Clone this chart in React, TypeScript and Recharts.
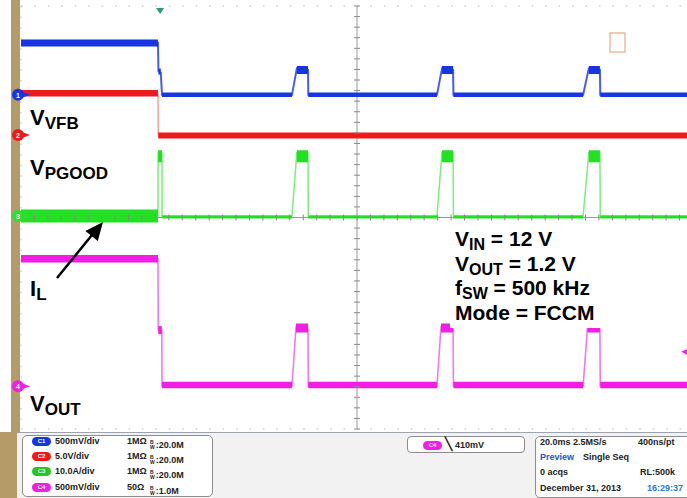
import React from "react";
import {
  ComposedChart,
  Line,
  Scatter,
  XAxis,
  YAxis,
  CartesianGrid,
  ReferenceLine,
} from "recharts";

type Pt = { t: number; v: number };
type Seg = [number, number, number]; // start ms, end ms, level (div)

// screen: 10 x 20 ms/div, 8 vertical divisions
const majorTime = [0, 20, 40, 60, 80, 100, 120, 140, 160, 180, 200];
const minorTime = Array.from({ length: 51 }, (_, i) => i * 4);
const majorDiv = [0, 1, 2, 3, 4, 5, 6, 7, 8];
const minorDiv = Array.from({ length: 41 }, (_, i) => +(i * 0.2).toFixed(1));

// channel ground positions (divisions from bottom)
const groundC1 = 6.32;
const groundC2 = 5.56;
const groundC3 = 4.03;
const groundC4 = 0.81;

const channelNames = ["1", "2", "3", "4"];
const channelGrounds = [groundC1, groundC2, groundC3, groundC4];

// C1 VFB (500 mV/div)
const vfbTrace: Pt[] = [
  { t: 0, v: 0.98 }, { t: 40.77, v: 0.98 }, { t: 40.9, v: 0.45 }, { t: 41.6, v: 0.42 },
  { t: 41.96, v: 0 }, { t: 80.65, v: 0 }, { t: 82.1, v: 0.5 }, { t: 85.42, v: 0.47 },
  { t: 85.5, v: 0 }, { t: 123.8, v: 0 }, { t: 125.3, v: 0.5 }, { t: 128.6, v: 0.47 },
  { t: 128.7, v: 0 }, { t: 167.3, v: 0 }, { t: 169.0, v: 0.5 }, { t: 172.3, v: 0.47 },
  { t: 172.4, v: 0 }, { t: 200, v: 0 },
];
const vfbHigh: Seg[] = [[0, 40.77, 0.98]];
const vfbGlitch: Seg[] = [[40.9, 41.6, 0.44]];
const vfbLow: Seg[] = [[41.96, 80.65, 0], [85.5, 123.8, 0], [128.7, 167.3, 0], [172.4, 200, 0]];
const vfbTop: Seg[] = [[82.1, 85.42, 0.47], [125.3, 128.6, 0.47], [169.0, 172.3, 0.47]];

// C2 PGOOD (5 V/div)
const pgTrace: Pt[] = [
  { t: 0, v: 0.79 }, { t: 40.77, v: 0.79 }, { t: 40.85, v: 0 }, { t: 200, v: 0 },
];
const pgHigh: Seg[] = [[0, 40.77, 0.79]];
const pgLow: Seg[] = [[40.85, 200, -0.01]];

// C3 IL (10 A/div)
const ilTrace: Pt[] = [
  { t: 0, v: 0 }, { t: 40.77, v: 0 }, { t: 40.8, v: 1.2 }, { t: 41.96, v: 1.2 },
  { t: 42.0, v: 0 }, { t: 80.65, v: 0 }, { t: 82.1, v: 1.2 }, { t: 85.42, v: 1.2 },
  { t: 85.5, v: 0 }, { t: 123.8, v: 0 }, { t: 125.3, v: 1.2 }, { t: 128.6, v: 1.2 },
  { t: 128.7, v: 0 }, { t: 167.3, v: 0 }, { t: 169.0, v: 1.2 }, { t: 172.3, v: 1.2 },
  { t: 172.4, v: 0 }, { t: 200, v: 0 },
];
const ilBand: Seg[] = [[0, 40.77, 0]];
const ilLow: Seg[] = [[42.0, 80.65, -0.02], [85.5, 123.8, -0.02], [128.7, 167.3, -0.02], [172.4, 200, -0.02]];
const ilTop: Seg[] = [[40.8, 41.96, 1.13], [82.1, 85.42, 1.13], [125.3, 128.6, 1.13], [169.0, 172.3, 1.13]];

// C4 VOUT (500 mV/div)
const voutTrace: Pt[] = [
  { t: 0, v: 2.41 }, { t: 40.77, v: 2.41 }, { t: 40.85, v: 1.06 }, { t: 41.9, v: 1.06 },
  { t: 41.96, v: 0 }, { t: 80.65, v: 0 }, { t: 81.85, v: 1.12 }, { t: 85.42, v: 1.08 },
  { t: 85.5, v: 0 }, { t: 123.8, v: 0 }, { t: 125.0, v: 1.12 }, { t: 128.6, v: 1.08 },
  { t: 128.7, v: 0 }, { t: 167.3, v: 0 }, { t: 168.6, v: 1.12 }, { t: 172.3, v: 1.08 },
  { t: 172.4, v: 0 }, { t: 200, v: 0 },
];
const voutHigh: Seg[] = [[0, 40.77, 2.41]];
const voutGlitch: Seg[] = [[40.85, 41.9, 1.06]];
const voutLow: Seg[] = [[41.96, 80.65, 0.02], [85.5, 123.8, 0.02], [128.7, 167.3, 0.02], [172.4, 200, 0.02]];
const voutTop: Seg[] = [[81.85, 85.42, 1.1], [125.0, 128.6, 1.1], [168.6, 172.3, 1.1]];

// trigger position (ms) and C4 trigger level marker (div)
const triggerTime = 41.4;
const triggerLevel = 1.46;

const BLUE = "#1636e6";
const RED = "#ee1a1a";
const GREEN = "#22e022";
const MAGENTA = "#f21ee6";
const CH_COLORS = [BLUE, RED, "#2ee02e", MAGENTA];
const FRAME = "#2460dc";

const shift = (pts: Pt[], off: number) => pts.map((p) => ({ t: p.t, y: p.v + off }));
const band = (segs: Seg[], off: number) =>
  segs.flatMap(([a, b, lv]) => [
    { t: a, y: lv + off },
    { t: b, y: lv + off },
    { t: b, y: null as number | null },
  ]);

const ax = { xAxisId: "x", yAxisId: "y" };

function trace(key: string, data: any[], color: string, width: number) {
  return (
    <Line
      key={key}
      {...ax}
      data={data}
      dataKey="y"
      type="linear"
      stroke={color}
      strokeWidth={width}
      dot={false}
      activeDot={false}
      connectNulls={false}
      isAnimationActive={false}
    />
  );
}

const Badge = ({ c, label }: { c: string; label: string }) => (
  <span
    style={{
      display: "inline-block",
      width: 19,
      height: 9,
      borderRadius: 5,
      background: c,
      color: "#fff",
      fontSize: 6,
      lineHeight: "9px",
      textAlign: "center",
      verticalAlign: "middle",
    }}
  >
    {label}
  </span>
);

const BW = ({ v }: { v: string }) => (
  <span style={{ display: "inline-flex", alignItems: "center" }}>
    <span
      style={{
        display: "inline-flex",
        flexDirection: "column",
        fontSize: 5,
        lineHeight: "5px",
        marginRight: 1,
      }}
    >
      <span>B</span>
      <span>W</span>
    </span>
    <span>:{v}</span>
  </span>
);

const cell = (x: number, y: number, content: React.ReactNode, color = "#222") => (
  <div style={{ position: "absolute", left: x, top: y, color, whiteSpace: "nowrap", lineHeight: "10px" }}>
    {content}
  </div>
);

export default function App() {
  const rows = [
    { c: BLUE, n: "C1", s: "500mV/div", r: "1MΩ", bw: "20.0M" },
    { c: RED, n: "C2", s: "5.0V/div", r: "1MΩ", bw: "20.0M" },
    { c: "#22c822", n: "C3", s: "10.0A/div", r: "1MΩ", bw: "20.0M" },
    { c: MAGENTA, n: "C4", s: "500mV/div", r: "50Ω", bw: "1.0M" },
  ];
  const rowY = [436, 451, 466, 482];

  return (
    <div
      style={{
        position: "absolute",
        left: 0,
        top: 0,
        width: 687,
        height: 498,
        overflow: "hidden",
        background: "#fff",
        fontFamily: '"Liberation Sans", Arial, sans-serif',
      }}
    >
      {/* left tan strip */}
      <div style={{ position: "absolute", left: 11, top: 0, width: 9, height: 433, background: "#b59b68" }} />

      <div style={{ position: "absolute", left: 0, top: 0 }}>
        <ComposedChart width={687} height={498} margin={{ top: 6, right: -6, bottom: 69, left: 21 }}>
          <CartesianGrid
            {...ax}
            horizontal={false}
            stroke="#b8b8b8"
            strokeDasharray="1.5 9.08"
          />
          <CartesianGrid
            {...ax}
            vertical={false}
            stroke="#b8b8b8"
            strokeDasharray="1.5 11.94"
          />
          <XAxis
            xAxisId="x"
            dataKey="t"
            type="number"
            domain={[0, 200]}
            ticks={majorTime}
            interval={0}
            orientation="bottom"
            mirror
            height={0}
            tick={false}
            tickSize={7}
            tickLine={{ stroke: "#777" }}
            axisLine={{ stroke: FRAME, strokeWidth: 4 }}
          />
          <XAxis
            xAxisId="xm"
            type="number"
            domain={[0, 200]}
            ticks={minorTime}
            interval={0}
            orientation="bottom"
            mirror
            height={0}
            tick={false}
            tickSize={4}
            tickLine={{ stroke: "#888" }}
            axisLine={false}
          />
          <XAxis
            xAxisId="xt"
            type="number"
            domain={[0, 200]}
            ticks={majorTime}
            interval={0}
            orientation="top"
            mirror
            height={0}
            tick={false}
            tickSize={8}
            tickLine={{ stroke: "#777" }}
            axisLine={{ stroke: FRAME, strokeWidth: 3 }}
          />
          <XAxis
            xAxisId="xtm"
            type="number"
            domain={[0, 200]}
            ticks={minorTime}
            interval={0}
            orientation="top"
            mirror
            height={0}
            tick={false}
            tickSize={4}
            tickLine={{ stroke: "#888" }}
            axisLine={false}
          />
          <YAxis
            yAxisId="y"
            dataKey="y"
            type="number"
            domain={[0, 8]}
            ticks={majorDiv}
            interval={0}
            orientation="left"
            mirror
            width={0}
            tick={false}
            tickSize={7}
            tickLine={{ stroke: FRAME }}
            axisLine={{ stroke: FRAME, strokeWidth: 2 }}
          />
          <YAxis
            yAxisId="ym"
            type="number"
            domain={[0, 8]}
            ticks={minorDiv}
            interval={0}
            orientation="left"
            mirror
            width={0}
            tick={false}
            tickSize={4}
            tickLine={{ stroke: FRAME }}
            axisLine={false}
          />

          <ReferenceLine {...ax} x={100} stroke="#9a9a9a" strokeWidth={1} />
          <ReferenceLine {...ax} y={4} stroke="#9a9a9a" strokeWidth={1} />
          <Scatter
            {...ax}
            data={minorDiv.map((d) => ({ t: 100, y: d }))}
            isAnimationActive={false}
            shape={(p: any) => (
              <line x1={p.cx - 3} x2={p.cx + 3} y1={p.cy} y2={p.cy} stroke="#8a8a8a" strokeWidth={1} />
            )}
          />
          <Scatter
            {...ax}
            data={minorTime.map((t) => ({ t, y: 4 }))}
            isAnimationActive={false}
            shape={(p: any) => (
              <line x1={p.cx} x2={p.cx} y1={p.cy - 3} y2={p.cy + 3} stroke="#8a8a8a" strokeWidth={1} />
            )}
          />

          {/* C1 VFB */}
          {trace("c1t", shift(vfbTrace, groundC1), "#4a5cf0", 2)}
          {trace("c1h", band(vfbHigh, groundC1), BLUE, 7)}
          {trace("c1g", band(vfbGlitch, groundC1), BLUE, 6)}
          {trace("c1l", band(vfbLow, groundC1), BLUE, 4.5)}
          {trace("c1p", band(vfbTop, groundC1), BLUE, 8)}

          {/* C2 PGOOD */}
          {trace("c2t", shift(pgTrace, groundC2), "#f08a8a", 1.2)}
          {trace("c2h", band(pgHigh, groundC2), RED, 6.5)}
          {trace("c2l", band(pgLow, groundC2), RED, 6)}

          {/* C3 IL */}
          {trace("c3t", shift(ilTrace, groundC3), "#7cee7c", 1.5)}
          {trace("c3b", band(ilBand, groundC3), GREEN, 13)}
          {trace("c3l", band(ilLow, groundC3), GREEN, 3)}
          {trace("c3p", band(ilTop, groundC3), GREEN, 12)}

          {/* C4 VOUT */}
          {trace("c4t", shift(voutTrace, groundC4), "#f27ae8", 1.6)}
          {trace("c4h", band(voutHigh, groundC4), MAGENTA, 7.5)}
          {trace("c4g", band(voutGlitch, groundC4), MAGENTA, 8)}
          {trace("c4l", band(voutLow, groundC4), MAGENTA, 6.5)}
          {trace("c4p", band(voutTop, groundC4), MAGENTA, 9)}

          {/* channel ground markers */}
          {channelGrounds.map((g, i) => (
            <Scatter
              key={"gm" + i}
              {...ax}
              data={[{ t: 0, y: g }]}
              isAnimationActive={false}
              shape={(p: any) => (
                <g>
                  <path
                    d={`M${p.cx + 1},${p.cy - 3} L${p.cx + 9},${p.cy} L${p.cx + 1},${p.cy + 3} Z`}
                    fill={CH_COLORS[i]}
                  />
                  <circle cx={p.cx - 3} cy={p.cy} r={6} fill={CH_COLORS[i]} />
                  <text
                    x={p.cx - 3}
                    y={p.cy + 3}
                    fontSize={7}
                    fontWeight={700}
                    fill="#fff"
                    textAnchor="middle"
                  >
                    {channelNames[i]}
                  </text>
                </g>
              )}
            />
          ))}

          {/* trigger position and level */}
          <Scatter
            {...ax}
            data={[{ t: triggerTime, y: 8 }]}
            isAnimationActive={false}
            shape={(p: any) => (
              <path d={`M${p.cx - 4},${p.cy + 2} L${p.cx + 4},${p.cy + 2} L${p.cx},${p.cy + 8} Z`} fill="#2a9a78" />
            )}
          />
          <Scatter
            {...ax}
            data={[{ t: 198, y: triggerLevel }]}
            isAnimationActive={false}
            shape={(p: any) => (
              <path d={`M${p.cx - 5},${p.cy} L${p.cx + 1},${p.cy - 3} L${p.cx + 1},${p.cy + 3} Z`} fill={MAGENTA} />
            )}
          />
        </ComposedChart>
      </div>

      {/* annotations */}
      <svg
        width={687}
        height={498}
        style={{ position: "absolute", left: 0, top: 0, pointerEvents: "none" }}
        fontFamily='"Liberation Sans", Arial, sans-serif'
        fontWeight={700}
      >
        <rect x={610} y={33} width={15} height={19} fill="none" stroke="#e9a88a" strokeWidth={1.2} />

        <rect x={27} y={104} width={56} height={27} fill="#fff" />
        <rect x={27} y={154} width={88} height={27} fill="#fff" />
        <rect x={27} y={276} width={26} height={27} fill="#fff" />
        <rect x={27} y={392} width={60} height={26} fill="#fff" />
        <rect x={450} y={227} width={162} height={101} fill="#fff" />

        <text x={30} y={125} fontSize={22} fill="#000">
          V<tspan fontSize={17} dy={4}>VFB</tspan>
        </text>
        <text x={30} y={175} fontSize={22} fill="#000">
          V<tspan fontSize={17} dy={4}>PGOOD</tspan>
        </text>
        <text x={30} y={296} fontSize={22} fill="#000">
          I<tspan fontSize={17} dy={4}>L</tspan>
        </text>
        <text x={30} y={411} fontSize={22} fill="#000">
          V<tspan fontSize={17} dy={4}>OUT</tspan>
        </text>

        <g fontSize={21} fill="#000">
          <text x={455} y={246}>
            V<tspan fontSize={16} dy={4}>IN</tspan>
            <tspan dy={-4}> = 12 V</tspan>
          </text>
          <text x={455} y={270.5}>
            V<tspan fontSize={16} dy={4}>OUT</tspan>
            <tspan dy={-4}> = 1.2 V</tspan>
          </text>
          <text x={455} y={295}>
            f<tspan fontSize={16} dy={4}>SW</tspan>
            <tspan dy={-4}> = 500 kHz</tspan>
          </text>
          <text x={455} y={320}>Mode = FCCM</text>
        </g>

        <line x1={57} y1={278} x2={92} y2={235} stroke="#000" strokeWidth={2.5} />
        <path d="M103,222 L97.8,241.1 L85.4,230.9 Z" fill="#000" />
      </svg>

      {/* bottom status panel */}
      <div
        style={{
          position: "absolute",
          left: 0,
          top: 432,
          width: 687,
          height: 66,
          background: "#f2f2f2",
          borderTop: "1px solid #9aa4b4",
        }}
      />
      <div style={{ position: "absolute", left: 0, top: 432, width: 17, height: 66, background: "#b59b68" }} />
      <div
        style={{
          position: "absolute",
          left: 22,
          top: 435,
          width: 191,
          height: 62,
          background: "#fff",
          border: "1px solid #8c8c8c",
          borderRadius: 5,
          boxSizing: "border-box",
        }}
      />
      <div
        style={{
          position: "absolute",
          left: 407,
          top: 436,
          width: 118,
          height: 17,
          background: "#fff",
          border: "1px solid #8c8c8c",
          borderRadius: 4,
          boxSizing: "border-box",
        }}
      />
      <div
        style={{
          position: "absolute",
          left: 535,
          top: 436,
          width: 170,
          height: 62,
          background: "#fff",
          border: "1px solid #8c8c8c",
          borderRadius: 5,
          boxSizing: "border-box",
        }}
      />
      <div
        style={{
          fontFamily: '"Liberation Sans Narrow", "Arial Narrow", "Liberation Sans", sans-serif',
          fontSize: 9,
          fontWeight: 700,
        }}
      >
        {rows.map((r, i) => (
          <React.Fragment key={r.n}>
            {cell(32, rowY[i], <Badge c={r.c} label={r.n} />)}
            {cell(55, rowY[i], r.s)}
            {cell(127, rowY[i], r.r)}
            {cell(150, rowY[i], <BW v={r.bw} />)}
          </React.Fragment>
        ))}
        {cell(423, 440, <Badge c={MAGENTA} label="C4" />)}
        {cell(445, 439, <span style={{ fontSize: 12, fontWeight: 700 }}>╲</span>)}
        {cell(455, 440, "410mV")}
        {cell(540, 437, "20.0ms  2.5MS/s")}
        {cell(638, 437, "400ns/pt")}
        {cell(540, 452, "Preview", "#2255cc")}
        {cell(583, 452, "Single Seq")}
        {cell(540, 467, "0 acqs")}
        {cell(640, 467, "RL:500k")}
        {cell(540, 483, "December 31, 2013")}
        {cell(647, 483, "16:29:37", "#2a7ad8")}
      </div>
    </div>
  );
}
